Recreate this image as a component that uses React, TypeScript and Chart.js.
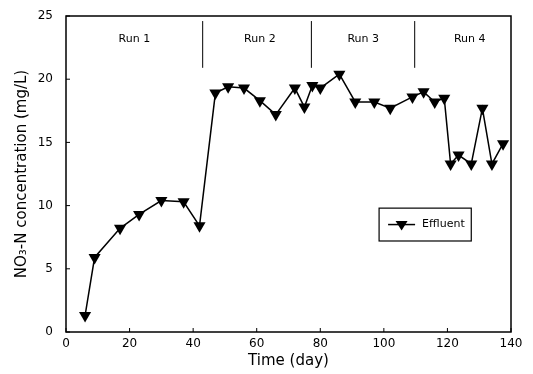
import React, { useEffect, useRef } from "react";
import { Chart, registerables } from "chart.js";

Chart.register(...registerables);

const days = [6, 9, 17, 23, 30, 37, 42, 47, 51, 56, 61, 66, 72, 75, 77.5, 80, 86, 91, 97, 102, 109, 112.5, 116, 119, 121, 123.5, 127.5, 131, 134, 137.5];
const effluent = [1.3, 5.9, 8.2, 9.3, 10.4, 10.3, 8.4, 18.9, 19.4, 19.3, 18.3, 17.2, 19.3, 17.8, 19.5, 19.3, 20.4, 18.2, 18.2, 17.7, 18.6, 19.0, 18.2, 18.5, 13.3, 14.0, 13.3, 17.7, 13.3, 14.9];
const runLabels = ["Run 1", "Run 2", "Run 3", "Run 4"];
const runLabelDays = [21.5, 61, 93.5, 127];
const runBoundaries = [43, 77.2, 109.7];
const xTicks = [0, 20, 40, 60, 80, 100, 120, 140];
const yTicks = [0, 5, 10, 15, 20, 25];
const seriesName = "Effluent";

const FONT = "'DejaVu Sans', sans-serif";

function drawTri(ctx: CanvasRenderingContext2D, x: number, y: number, r: number) {
  ctx.beginPath();
  ctx.moveTo(x - r, y - r * 0.6);
  ctx.lineTo(x + r, y - r * 0.6);
  ctx.lineTo(x, y + r * 1.0);
  ctx.closePath();
  ctx.fill();
}

const framePlugin = {
  id: "frame",
  afterDatasetsDraw(chart: any) {
    const { ctx, chartArea: a, scales } = chart;
    const xs = scales.x;
    const ys = scales.y;
    ctx.save();
    ctx.strokeStyle = "#000";
    ctx.lineWidth = 1.5;
    ctx.strokeRect(a.left, a.top, a.right - a.left, a.bottom - a.top);
    ctx.lineWidth = 1;
    xTicks.forEach((v) => {
      const px = xs.getPixelForValue(v);
      ctx.beginPath();
      ctx.moveTo(px, a.bottom);
      ctx.lineTo(px, a.bottom - 4);
      ctx.stroke();
    });
    yTicks.forEach((v) => {
      const py = ys.getPixelForValue(v);
      ctx.beginPath();
      ctx.moveTo(a.left, py);
      ctx.lineTo(a.left + 4, py);
      ctx.stroke();
    });
    runBoundaries.forEach((d) => {
      const px = xs.getPixelForValue(d);
      ctx.beginPath();
      ctx.moveTo(px, ys.getPixelForValue(24.6));
      ctx.lineTo(px, ys.getPixelForValue(20.9));
      ctx.stroke();
    });
    ctx.fillStyle = "#000";
    ctx.font = `11px ${FONT}`;
    ctx.textAlign = "center";
    ctx.textBaseline = "middle";
    runLabels.forEach((t, i) => {
      ctx.fillText(t, xs.getPixelForValue(runLabelDays[i]), ys.getPixelForValue(23.2));
    });
    const lx0 = xs.getPixelForValue(98.5);
    const lx1 = xs.getPixelForValue(127.5);
    const ly0 = ys.getPixelForValue(9.8);
    const ly1 = ys.getPixelForValue(7.2);
    ctx.lineWidth = 1.2;
    ctx.strokeRect(lx0, ly0, lx1 - lx0, ly1 - ly0);
    const cy = (ly0 + ly1) / 2;
    ctx.beginPath();
    ctx.moveTo(lx0 + 9, cy);
    ctx.lineTo(lx0 + 36, cy);
    ctx.lineWidth = 1.5;
    ctx.stroke();
    drawTri(ctx, lx0 + 22.5, cy, 6);
    ctx.textAlign = "left";
    ctx.font = `11px ${FONT}`;
    ctx.fillText(seriesName, lx0 + 43, cy);
    ctx.restore();
  },
};

export default function App() {
  const ref = useRef<HTMLCanvasElement | null>(null);
  useEffect(() => {
    document.body.style.margin = "0";
    const c = ref.current!;
    const chart = new Chart(c, {
      type: "line",
      data: {
        datasets: [
          {
            label: seriesName,
            data: days.map((d, i) => ({ x: d, y: effluent[i] })),
            borderColor: "#000",
            backgroundColor: "#000",
            borderWidth: 1.5,
            pointStyle: "triangle",
            rotation: 180,
            pointRadius: 7,
            pointHoverRadius: 7,
            pointBorderWidth: 0,
            tension: 0,
          },
        ],
      },
      plugins: [framePlugin],
      options: {
        animation: false,
        responsive: false,
        maintainAspectRatio: false,
        layout: { padding: { top: 16, right: 22, left: 0, bottom: 0 } },
        plugins: { legend: { display: false }, tooltip: { enabled: false } },
        scales: {
          x: {
            type: "linear",
            min: 0,
            max: 140,
            afterBuildTicks: (s: any) => {
              s.ticks = xTicks.map((v) => ({ value: v }));
            },
            afterFit: (s: any) => {
              s.height = 42;
              s.paddingLeft = 0;
              s.paddingRight = 0;
            },
            grid: { display: false, drawTicks: false },
            border: { display: false },
            ticks: {
              padding: 5,
              color: "#000",
              font: { family: FONT, size: 12 },
              maxRotation: 0,
            },
            title: {
              display: true,
              text: "Time (day)",
              color: "#000",
              font: { family: FONT, size: 15 },
              padding: { top: 2, bottom: 4 },
            },
          },
          y: {
            min: 0,
            max: 25,
            afterBuildTicks: (s: any) => {
              s.ticks = yTicks.map((v) => ({ value: v }));
            },
            afterFit: (s: any) => {
              s.width = 66;
              s.paddingTop = 0;
              s.paddingBottom = 0;
            },
            grid: { display: false, drawTicks: false },
            border: { display: false },
            ticks: {
              padding: 13,
              color: "#000",
              font: { family: FONT, size: 12 },
            },
            title: {
              display: true,
              text: "NO₃-N concentration (mg/L)",
              color: "#000",
              font: { family: FONT, size: 15 },
              padding: { top: 13, bottom: 0 },
            },
          },
        },
      },
    } as any);
    return () => chart.destroy();
  }, []);
  return (
    <div style={{ width: 533, height: 374, background: "#fff" }}>
      <canvas ref={ref} width={533} height={374} style={{ display: "block" }} />
    </div>
  );
}
